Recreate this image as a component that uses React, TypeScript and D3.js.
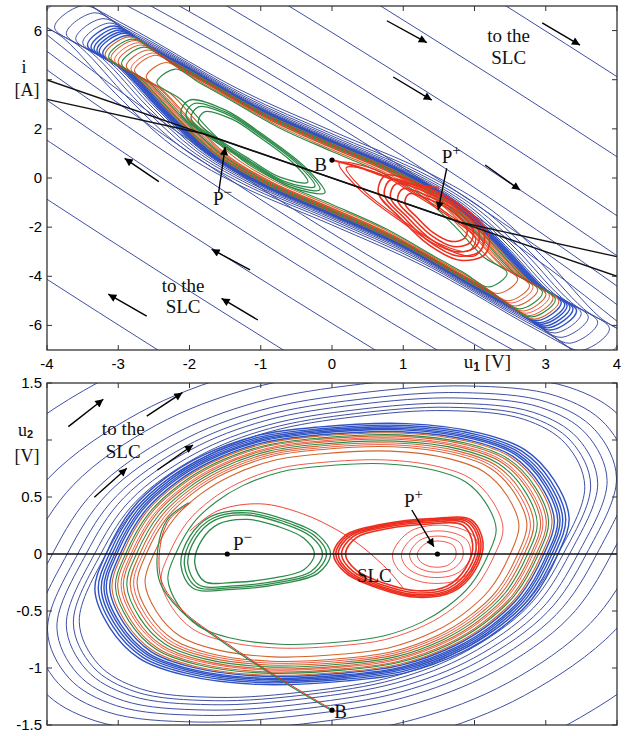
import React, { useEffect, useRef } from 'react';
import * as d3 from 'd3';

type Pt = [number, number];

// ---------- top panel: u1 [V] vs i [A] ----------
// stable limit cycle, control points
const topSlc: Pt[] = [
  [-2.95, 5.95], [-2.5, 5.2], [-2.0, 4.4], [-1.0, 2.75], [0.0, 1.45], [1.0, 0.2],
  [1.7, -1.0], [2.3, -2.6], [2.85, -4.3], [3.3, -5.2],
  [2.95, -5.95], [2.5, -5.2], [2.0, -4.4], [1.0, -2.75], [0.0, -1.45], [-1.0, -0.2],
  [-1.7, 1.0], [-2.3, 2.6], [-2.85, 4.3], [-3.3, 5.2],
];
// far-field orbit shape
const topOuter: Pt[] = [
  [3.3, -5.92], [3.1, -5.06], [2.33, -3.14], [1.13, -0.64], [0.0, 1.48], [-1.13, 3.41],
  [-2.33, 5.23], [-3.1, 6.07], [-3.3, 5.92], [-3.1, 5.06], [-2.33, 3.14], [-1.13, 0.64],
  [0.0, -1.48], [1.13, -3.41], [2.33, -5.23], [3.1, -6.07],
];
const topBand = [0.975, 0.99, 1.0, 1.012, 1.025, 1.04];
const topNear = [1.06, 1.09, 1.13, 1.18, 1.24, 1.32];
const topFar = [1.52, 1.83, 2.24, 2.98, 4.0, 5.56, 7.72, 10.3];
const topOrange = [0.965, 0.94, 0.91, 0.875, 0.84, 0.79];
const topGreen = [0.95, 0.895, 0.745];
const topRedThin = [0.925, 0.855];
const topGreenLoop: Pt[] = [
  [-2.0, 3.17], [-1.5, 2.77], [-1.0, 1.83], [-0.38, 0.45], [-0.1, -0.6],
  [-0.6, -0.35], [-1.16, 0.6], [-1.73, 1.67], [-2.12, 2.63],
];
const topGreenScales = [1.0, 0.93, 0.86, 0.76];
const topRedLoop: Pt[] = [
  [0.75, 0.1], [1.3, -0.35], [1.85, -1.2], [2.2, -2.3], [2.15, -3.1], [1.8, -3.35],
  [1.35, -2.7], [0.95, -1.6], [0.65, -0.6],
];
const topRedScales = [1.0, 0.9, 0.8, 0.68, 0.56];
const topBCurve: Pt[] = [[0.0, 0.73], [0.4, 0.42], [0.75, 0.05], [1.1, -0.25], [1.5, -0.4]];
const topLineA: Pt[] = [[-4, 3.99], [4, -4.0]];
const topLineB: Pt[] = [[-4, 3.2], [-1.8, 1.8], [1.8, -1.8], [4, -3.2]];
const topArrows: [number, number, number, number][] = [
  [0.77, 6.4, 1.33, 5.51], [0.86, 4.11, 1.4, 3.17], [2.95, 6.31, 3.48, 5.41],
  [2.15, 0.53, 2.64, -0.49], [-2.43, -0.15, -2.91, 0.8], [-1.15, -3.74, -1.69, -2.9],
  [-1.04, -5.78, -1.55, -4.9], [-2.6, -5.62, -3.14, -4.73],
];
const topXTicks = [-4, -3, -2, -1, 0, 1, 2, 3, 4];
const topYTicks = [-6, -4, -2, 0, 2, 4, 6];

// ---------- bottom panel: u1 [V] vs u2 [V] ----------
const botSlc: Pt[] = [
  [3.2, 0.3], [3.0, 0.62], [2.6, 0.88], [2.0, 1.02], [1.0, 1.1], [-0.2, 1.07],
  [-1.0, 1.0], [-1.75, 0.83], [-2.25, 0.64], [-2.7, 0.38], [-3.05, 0.0],
  [-3.2, -0.3], [-3.0, -0.62], [-2.6, -0.88], [-2.0, -1.02], [-1.0, -1.1], [0.2, -1.07],
  [1.0, -1.0], [1.75, -0.83], [2.25, -0.64], [2.7, -0.38], [3.05, 0.0],
];
// orbits outside the cycle: slightly more tilted shape
const botOuterShape: Pt[] = [
  [3.3, 0.55], [3.05, 0.9], [2.5, 1.1], [1.5, 1.17], [0.3, 1.12], [-0.8, 1.0],
  [-1.7, 0.78], [-2.5, 0.42], [-2.95, 0.0],
  [-3.3, -0.55], [-3.05, -0.9], [-2.5, -1.1], [-1.5, -1.17], [-0.3, -1.12], [0.8, -1.0],
  [1.7, -0.78], [2.5, -0.42], [2.95, 0.0],
];
const botBand = [0.975, 0.99, 1.0, 1.012, 1.025, 1.04];
const botOuter = [1.075, 1.1, 1.13, 1.17, 1.21, 1.26, 1.33, 1.45, 1.59, 1.93, 2.3];
const botOrange = [0.965, 0.94, 0.915, 0.885, 0.855, 0.82];
const botGreen = [0.95, 0.9, 0.72];
const botRedThin = [0.925, 0.87, 0.75];
const botRedLoop: Pt[] = [
  [0.02, 0.0], [0.2, 0.17], [0.7, 0.26], [1.4, 0.31], [1.95, 0.3], [2.12, 0.1],
  [2.0, -0.15], [1.7, -0.33], [1.2, -0.38], [0.65, -0.3], [0.2, -0.17],
];
const botRedScales = [1.0, 0.97, 0.94, 0.9, 0.85];
const botRedCore: Pt[] = [
  [0.85, 0.0], [1.1, 0.2], [1.6, 0.25], [2.0, 0.15], [2.05, -0.05], [1.8, -0.22],
  [1.3, -0.25], [0.95, -0.15],
];
const botCoreScales = [1.0, 0.8, 0.62, 0.45];
const botGreenLoop: Pt[] = [
  [-0.02, 0.0], [-0.2, -0.17], [-0.7, -0.26], [-1.4, -0.31], [-1.95, -0.3], [-2.12, -0.1],
  [-2.0, 0.15], [-1.7, 0.33], [-1.2, 0.38], [-0.65, 0.3], [-0.2, 0.17],
];
const botGreenScales = [1.0, 0.95, 0.9, 0.8];
const botBCurve: Pt[] = [
  [0.0, -1.37], [-0.72, -1.1], [-1.5, -0.78], [-2.12, -0.49], [-2.4, -0.25],
  [-2.43, 0.05], [-2.3, 0.3], [-2.0, 0.45],
];
const botLink: Pt[] = [
  [-2.0, 0.2], [-1.6, 0.38], [-1.0, 0.44], [-0.4, 0.35], [0.1, 0.2], [0.45, 0.05],
  [0.8, -0.15], [1.0, -0.3],
];
const botArrows: [number, number, number, number][] = [
  [-3.7, 1.117, -3.21, 1.357], [-2.6, 1.21, -2.1, 1.415],
  [-3.336, 0.497, -2.88, 0.752], [-2.45, 0.737, -1.95, 0.956],
];
const botYTicks = [-1.5, -1, -0.5, 0, 0.5, 1, 1.5];

const BLUE = '#3f4fa3';
const BAND = '#2f52c4';
const ORANGE = '#d2642c';
const GREEN = '#2b8a47';
const RED = '#ec2f1e';
const SERIF = '"Liberation Serif", "Times New Roman", serif';
const SANS = '"Liberation Sans", Arial, sans-serif';

export default function App() {
  const ref = useRef<SVGSVGElement | null>(null);

  useEffect(() => {
    const svg = d3.select(ref.current);
    svg.selectAll('*').remove();

    const defs = svg.append('defs');
    defs.append('marker').attr('id', 'ah')
      .attr('viewBox', '0 0 10 10').attr('refX', 10).attr('refY', 5)
      .attr('markerWidth', 11).attr('markerHeight', 8)
      .attr('markerUnits', 'userSpaceOnUse').attr('orient', 'auto')
      .append('path').attr('d', 'M0,0L10,5L0,10z').attr('fill', '#000');

    const x = d3.scaleLinear().domain([-4, 4]).range([47, 617]);
    const yTop = d3.scaleLinear().domain([-7, 7]).range([350, 6]);
    const yBot = d3.scaleLinear().domain([-1.5, 1.5]).range([725, 383]);

    const closed = (y: d3.ScaleLinear<number, number>, s: number, c: Pt = [0, 0]) =>
      d3.line<Pt>()
        .curve(d3.curveCatmullRomClosed.alpha(0.5))
        .x(d => x(c[0] + (d[0] - c[0]) * s))
        .y(d => y(c[1] + (d[1] - c[1]) * s));
    const open = (y: d3.ScaleLinear<number, number>) =>
      d3.line<Pt>().curve(d3.curveCatmullRom.alpha(0.5)).x(d => x(d[0])).y(d => y(d[1]));

    function panel(id: string, y: d3.ScaleLinear<number, number>) {
      const [y1, y0] = y.range();
      defs.append('clipPath').attr('id', id)
        .append('rect').attr('x', 47).attr('y', y0).attr('width', 570).attr('height', y1 - y0);
      return svg.append('g').attr('clip-path', `url(#${id})`);
    }

    function loops(g: any, y: any, shape: Pt[], scales: number[], color: string, w: number, c?: Pt) {
      scales.forEach(s => {
        g.append('path').attr('d', closed(y, s, c)(shape))
          .attr('fill', 'none').attr('stroke', color).attr('stroke-width', w);
      });
    }

    function frame(y: d3.ScaleLinear<number, number>, yTicks: number[], hideY: number,
      xLabels: boolean) {
      const [y1, y0] = y.range();
      const g = svg.append('g');
      g.append('rect').attr('x', 47).attr('y', y0).attr('width', 570).attr('height', y1 - y0)
        .attr('fill', 'none').attr('stroke', '#333').attr('stroke-width', 1.3);
      topXTicks.forEach(t => {
        g.append('line').attr('x1', x(t)).attr('x2', x(t)).attr('y1', y1).attr('y2', y1 - 5)
          .attr('stroke', '#333');
        g.append('line').attr('x1', x(t)).attr('x2', x(t)).attr('y1', y0).attr('y2', y0 + 5)
          .attr('stroke', '#333');
        if (xLabels && t !== 2) {
          g.append('text').attr('x', x(t)).attr('y', y1 + 19).attr('text-anchor', 'middle')
            .attr('font-family', SANS).attr('font-size', 15).text(String(t));
        }
      });
      yTicks.forEach(t => {
        g.append('line').attr('x1', 47).attr('x2', 52).attr('y1', y(t)).attr('y2', y(t))
          .attr('stroke', '#333');
        g.append('line').attr('x1', 617).attr('x2', 612).attr('y1', y(t)).attr('y2', y(t))
          .attr('stroke', '#333');
        if (t !== hideY) {
          g.append('text').attr('x', 42).attr('y', y(t) + 5).attr('text-anchor', 'end')
            .attr('font-family', SANS).attr('font-size', 15).text(String(t));
        }
      });
    }

    function arrows(y: any, list: [number, number, number, number][]) {
      list.forEach(a => {
        svg.append('line').attr('x1', x(a[0])).attr('y1', y(a[1]))
          .attr('x2', x(a[2])).attr('y2', y(a[3]))
          .attr('stroke', '#000').attr('stroke-width', 1.4).attr('marker-end', 'url(#ah)');
      });
    }

    function label(xv: number, yv: number, txt: string, sup = '', anchor = 'start', size = 19) {
      const t = svg.append('text').attr('x', xv).attr('y', yv)
        .attr('font-family', SERIF).attr('font-size', size).attr('text-anchor', anchor)
        .attr('fill', '#111');
      t.append('tspan').text(txt);
      if (sup) t.append('tspan').attr('dy', -8).attr('font-size', 15).text(sup);
    }

    function dot(xv: number, yv: number) {
      svg.append('circle').attr('cx', xv).attr('cy', yv).attr('r', 2.6).attr('fill', '#000');
    }

    // ===== top panel =====
    const gt = panel('clipTop', yTop);
    loops(gt, yTop, topOuter, topFar, BLUE, 1);
    loops(gt, yTop, topSlc, topNear, BLUE, 1);
    loops(gt, yTop, topSlc, topBand, BAND, 1.4);
    loops(gt, yTop, topSlc, topOrange, ORANGE, 1.1);
    loops(gt, yTop, topSlc, topGreen, GREEN, 1.1);
    loops(gt, yTop, topSlc, topRedThin, RED, 0.8);
    loops(gt, yTop, topGreenLoop, topGreenScales, GREEN, 1.3, [-1.1, 1.2]);
    loops(gt, yTop, topGreenLoop.map(p => [-p[0], -p[1]] as Pt), [1.0, 0.9], RED, 1.2, [1.1, -1.2]);
    loops(gt, yTop, topRedLoop, topRedScales, RED, 1.6, [1.5, -1.6]);
    gt.append('path').attr('d', open(yTop)(topBCurve)).attr('fill', 'none')
      .attr('stroke', RED).attr('stroke-width', 2);
    [topLineA, topLineB].forEach(l => {
      gt.append('path').attr('d', d3.line<Pt>().x(d => x(d[0])).y(d => yTop(d[1]))(l))
        .attr('fill', 'none').attr('stroke', '#111').attr('stroke-width', 1.4);
    });
    frame(yTop, topYTicks, 4, true);
    arrows(yTop, topArrows);
    arrows(yTop, [[-1.59, -0.57, -1.5, 1.26], [1.61, 0.39, 1.49, -1.3]]);
    dot(x(0), yTop(0.73));
    label(x(2.48), yTop(5.54), 'to the', '', 'middle');
    label(x(2.48), yTop(4.64), 'SLC', '', 'middle');
    label(x(-2.09), yTop(-4.64), 'to the', '', 'middle');
    label(x(-2.09), yTop(-5.49), 'SLC', '', 'middle');
    label(x(-1.67), yTop(-1.1), 'P', '\u2212');
    label(x(1.54), yTop(0.61), 'P', '+');
    label(x(-0.07), yTop(0.3), 'B', '', 'end');
    label(24, 73, 'i', '', 'middle', 18);
    label(27, 96, '[A]', '', 'middle', 18);
    const ux = svg.append('text').attr('x', x(1.85)).attr('y', 368)
      .attr('font-family', SERIF).attr('font-size', 19).attr('fill', '#111');
    ux.append('tspan').text('u');
    ux.append('tspan').attr('font-size', 12).attr('font-family', SANS).attr('font-weight', 'bold')
      .attr('dy', 3).text('1');
    ux.append('tspan').attr('dy', -3).text(' [V]');

    // ===== bottom panel =====
    const gb = panel('clipBot', yBot);
    loops(gb, yBot, botOuterShape, botOuter, BLUE, 1);
    loops(gb, yBot, botSlc, botBand, BAND, 1.4);
    loops(gb, yBot, botSlc, botOrange, ORANGE, 1.1);
    loops(gb, yBot, botSlc, botGreen, GREEN, 1.1);
    loops(gb, yBot, botSlc, botRedThin, RED, 0.8);
    loops(gb, yBot, botGreenLoop, botGreenScales, GREEN, 1.3, [-1.15, 0]);
    loops(gb, yBot, botRedLoop, botRedScales, RED, 1.6, [1.15, 0]);
    loops(gb, yBot, botRedCore, botCoreScales, RED, 0.8, [1.48, 0]);
    gb.append('path').attr('d', open(yBot)(botLink)).attr('fill', 'none')
      .attr('stroke', RED).attr('stroke-width', 0.9);
    gb.append('path').attr('d', open(yBot)(botBCurve)).attr('fill', 'none')
      .attr('stroke', GREEN).attr('stroke-width', 1.2).attr('transform', 'translate(-1,0)');
    gb.append('path').attr('d', open(yBot)(botBCurve)).attr('fill', 'none')
      .attr('stroke', RED).attr('stroke-width', 1).attr('transform', 'translate(1,0)');
    gb.append('line').attr('x1', x(-4)).attr('x2', x(4)).attr('y1', yBot(0)).attr('y2', yBot(0))
      .attr('stroke', '#111').attr('stroke-width', 1.4);
    frame(yBot, botYTicks, 1, false);
    arrows(yBot, botArrows);
    arrows(yBot, [[1.12, 0.386, 1.43, 0.064]]);
    dot(x(-1.47), yBot(0));
    dot(x(1.48), yBot(0));
    dot(x(0), yBot(-1.37));
    label(x(-2.93), yBot(1.044), 'to the', '', 'middle');
    label(x(-2.93), yBot(0.842), 'SLC', '', 'middle');
    label(x(-1.39), yBot(0.035), 'P', '\u2212');
    label(x(1.01), yBot(0.41), 'P', '+');
    label(x(0.35), yBot(-0.246), 'SLC');
    label(x(0.03), yBot(-1.44), 'B');
    const u2 = svg.append('text').attr('x', 18).attr('y', 436)
      .attr('font-family', SERIF).attr('font-size', 18).attr('fill', '#111');
    u2.append('tspan').text('u');
    u2.append('tspan').attr('font-size', 11).attr('font-family', SANS).attr('font-weight', 'bold')
      .attr('dy', 2).text('2');
    label(27, 462, '[V]', '', 'middle', 18);
  }, []);

  return (
    <svg ref={ref} width={627} height={736}
      style={{ position: 'absolute', left: 0, top: 0, background: '#fff' }} />
  );
}
